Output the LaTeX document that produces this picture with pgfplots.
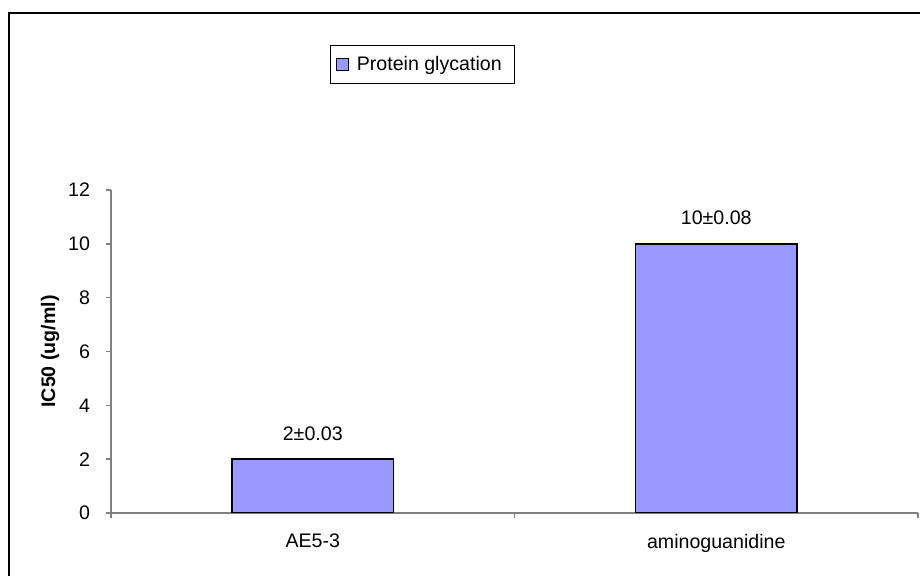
\documentclass[border=0pt]{standalone}
\usepackage{fontspec}
\setmainfont{Liberation Sans}
\usepackage{pgfplots}
\pgfplotsset{compat=1.18}
\definecolor{barblue}{HTML}{9999FF}
\definecolor{axgray}{HTML}{808080}
\begin{document}
\begin{tikzpicture}
\useasboundingbox (0,0) rectangle (460pt,288pt);
\draw[line width=0.9pt] (4.5pt,0) -- (4.5pt,281.5pt) -- (460pt,281.5pt);
\begin{axis}[
  at={(55.5pt,31.5pt)}, anchor=south west,
  scale only axis, width=403.5pt, height=161.5pt,
  xmin=0, xmax=2, ymin=0, ymax=12,
  axis x line*=bottom, axis y line*=left,
  axis line style={draw=axgray, line width=0.7pt},
  xtick={0,1,2}, xticklabels={},
  extra x ticks={0.5,1.5},
  extra x tick labels={AE5-3,aminoguanidine},
  extra x tick style={major tick length=0pt, xticklabel style={yshift=-7pt}},
  ytick={0,2,4,6,8,10,12},
  tick align=outside, major tick length=2.5pt,
  tick style={draw=axgray, line width=0.7pt},
  /pgf/number format/assume math mode=true,
  tick label style={font=\fontsize{9.8}{11}\selectfont},
  yticklabel style={xshift=-4.5pt},
  ylabel={\textbf{IC50 (ug/ml)}},
  ylabel style={at={(axis description cs:-0.0756,0.5)}, anchor=center, font=\fontsize{9.8}{11}\selectfont},
  legend style={at={(0.2714,1.449)}, anchor=north west, draw=black, line width=0.6pt,
    font=\fontsize{9.8}{11}\selectfont, inner xsep=2.5pt, inner ysep=3.25pt,
    nodes={inner xsep=4pt}},
  legend image code/.code={\draw[fill=barblue, draw=black, line width=0.6pt] (0pt,-3pt) rectangle (6pt,3pt);},
]
\addplot[ybar, fill=barblue, draw=black, line width=0.75pt, bar width=0.4,
  nodes near coords, point meta=explicit symbolic,
  every node near coord/.style={font=\fontsize{9.8}{11}\selectfont, black, anchor=base, yshift=9.5pt}]
  table[meta=lab] {
x y lab
0.5 2 2±0.03
1.5 10 10±0.08
};
\addlegendentry{Protein glycation}
\end{axis}
\end{tikzpicture}
\end{document}
